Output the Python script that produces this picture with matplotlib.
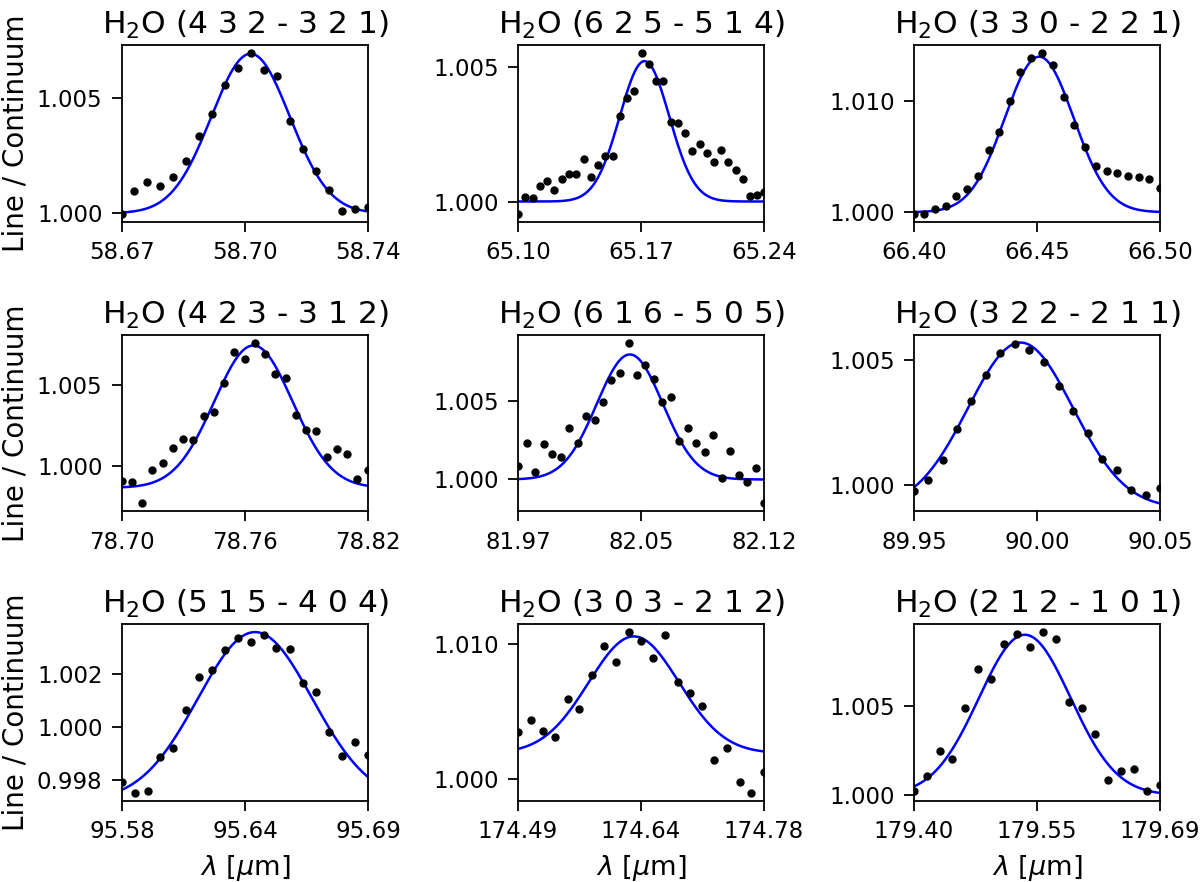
import numpy as np
import matplotlib
matplotlib.use("Agg")
import matplotlib.pyplot as plt

# transition labels (upper - lower level)
transitions = [
    "4 3 2 - 3 2 1", "6 2 5 - 5 1 4", "3 3 0 - 2 2 1",
    "4 2 3 - 3 1 2", "6 1 6 - 5 0 5", "3 2 2 - 2 1 1",
    "5 1 5 - 4 0 4", "3 0 3 - 2 1 2", "2 1 2 - 1 0 1",
]

# observed spectra (wavelength in um, line/continuum)
wave_1 = [58.6700, 58.6734, 58.6771, 58.6808, 58.6844, 58.6882, 58.6919, 58.6957, 58.6993, 58.7030,
          58.7068, 58.7104, 58.7141, 58.7178, 58.7215, 58.7252, 58.7289, 58.7325, 58.7362, 58.7400]
flux_1 = [0.99997, 1.00098, 1.00135, 1.00116, 1.00155, 1.00228, 1.00335, 1.00431, 1.00553, 1.00629,
          1.00693, 1.00618, 1.00592, 1.00401, 1.00277, 1.00181, 1.00102, 1.00010, 1.00017, 1.00026]

wave_2 = [65.1000, 65.1042, 65.1083, 65.1125, 65.1167, 65.1207, 65.1248, 65.1290, 65.1332, 65.1373,
          65.1413, 65.1455, 65.1497, 65.1538, 65.1578, 65.1620, 65.1662, 65.1703, 65.1745, 65.1787,
          65.1827, 65.1869, 65.1908, 65.1950, 65.1992, 65.2034, 65.2073, 65.2115, 65.2157, 65.2198,
          65.2240, 65.2280, 65.2321, 65.2363, 65.2400]
flux_2 = [0.99954, 1.00017, 1.00012, 1.00057, 1.00075, 1.00043, 1.00085, 1.00102, 1.00101, 1.00159,
          1.00091, 1.00137, 1.00170, 1.00170, 1.00317, 1.00383, 1.00408, 1.00550, 1.00511, 1.00448,
          1.00448, 1.00293, 1.00289, 1.00252, 1.00187, 1.00213, 1.00181, 1.00147, 1.00192, 1.00147,
          1.00117, 1.00085, 1.00020, 1.00025, 1.00037]

wave_3 = [66.4000, 66.4041, 66.4084, 66.4128, 66.4172, 66.4216, 66.4259, 66.4303, 66.4346, 66.4389,
          66.4432, 66.4476, 66.4521, 66.4565, 66.4608, 66.4651, 66.4695, 66.4740, 66.4783, 66.4826,
          66.4871, 66.4915, 66.4957, 66.5000]
flux_3 = [0.99985, 0.99985, 1.00027, 1.00054, 1.00147, 1.00213, 1.00326, 1.00560, 1.00725, 1.01000,
          1.01260, 1.01389, 1.01431, 1.01320, 1.01039, 1.00787, 1.00584, 1.00416, 1.00374, 1.00353,
          1.00326, 1.00314, 1.00296, 1.00222]

wave_4 = [78.7000, 78.7047, 78.7098, 78.7148, 78.7198, 78.7247, 78.7298, 78.7348, 78.7398, 78.7449,
          78.7498, 78.7548, 78.7598, 78.7649, 78.7699, 78.7748, 78.7798, 78.7849, 78.7899, 78.7948,
          78.7998, 78.8049, 78.8099, 78.8148, 78.8200]
flux_4 = [0.99904, 0.99898, 0.99766, 0.99971, 1.00018, 1.00111, 1.00166, 1.00160, 1.00305, 1.00332,
          1.00512, 1.00703, 1.00658, 1.00762, 1.00693, 1.00570, 1.00543, 1.00316, 1.00219, 1.00215,
          1.00051, 1.00102, 1.00070, 0.99916, 0.99971]

wave_5 = [81.9700, 81.9753, 81.9806, 81.9856, 81.9909, 81.9960, 82.0013, 82.0063, 82.0116, 82.0167,
          82.0220, 82.0270, 82.0321, 82.0374, 82.0425, 82.0477, 82.0530, 82.0581, 82.0634, 82.0684,
          82.0735, 82.0788, 82.0839, 82.0891, 82.0942, 82.0995, 82.1047, 82.1098, 82.1149, 82.1200]
flux_5 = [1.00087, 1.00235, 1.00049, 1.00227, 1.00163, 1.00142, 1.00328, 1.00233, 1.00403, 1.00381,
          1.00496, 1.00638, 1.00680, 1.00875, 1.00669, 1.00729, 1.00640, 1.00492, 1.00525, 1.00244,
          1.00328, 1.00231, 1.00178, 1.00284, 1.00011, 1.00184, 1.00030, 0.99983, 1.00072, 0.99847]

wave_6 = [89.9500, 89.9558, 89.9617, 89.9675, 89.9733, 89.9792, 89.9850, 89.9911, 89.9969, 90.0029,
          90.0088, 90.0147, 90.0207, 90.0265, 90.0325, 90.0383, 90.0442, 90.0500]
flux_6 = [0.99975, 1.00019, 1.00099, 1.00221, 1.00333, 1.00439, 1.00529, 1.00565, 1.00541, 1.00491,
          1.00394, 1.00296, 1.00205, 1.00104, 1.00060, 0.99978, 0.99960, 0.99985]

wave_7 = [95.5800, 95.5857, 95.5915, 95.5971, 95.6028, 95.6086, 95.6144, 95.6201, 95.6259, 95.6317,
          95.6377, 95.6434, 95.6490, 95.6550, 95.6608, 95.6666, 95.6724, 95.6782, 95.6840, 95.6900]
flux_7 = [0.99794, 0.99751, 0.99759, 0.99889, 0.99921, 1.00065, 1.00190, 1.00215, 1.00293, 1.00338,
          1.00321, 1.00349, 1.00298, 1.00295, 1.00169, 1.00132, 0.99983, 0.99891, 0.99944, 0.99893]

wave_8 = [174.4900, 174.5049, 174.5194, 174.5332, 174.5485, 174.5622, 174.5767, 174.5909, 174.6058,
          174.6207, 174.6348, 174.6497, 174.6638, 174.6784, 174.6929, 174.7074, 174.7215, 174.7364,
          174.7514, 174.7651, 174.7800]
flux_8 = [1.00349, 1.00437, 1.00354, 1.00312, 1.00595, 1.00518, 1.00771, 1.00980, 1.00862,
          1.01086, 1.01022, 1.00894, 1.01061, 1.00717, 1.00639, 1.00541, 1.00138, 1.00229,
          0.99978, 0.99897, 1.00052]

wave_9 = [179.4000, 179.4150, 179.4303, 179.4453, 179.4602, 179.4756, 179.4909, 179.5062, 179.5216,
          179.5369, 179.5523, 179.5672, 179.5830, 179.5979, 179.6133, 179.6290, 179.6444, 179.6597,
          179.6750, 179.6900]
flux_9 = [1.00020, 1.00107, 1.00246, 1.00202, 1.00487, 1.00711, 1.00652, 1.00852, 1.00907,
          1.00835, 1.00917, 1.00876, 1.00524, 1.00491, 1.00346, 1.00083, 1.00133, 1.00146,
          1.00024, 1.00056]

waves = [wave_1, wave_2, wave_3, wave_4, wave_5, wave_6, wave_7, wave_8, wave_9]
fluxes = [flux_1, flux_2, flux_3, flux_4, flux_5, flux_6, flux_7, flux_8, flux_9]

# gaussian fit parameters
fit_center = [58.7066, 65.1720, 66.4509, 78.7641, 82.0382, 89.9933, 95.6395, 174.6266, 179.5306]
fit_amp = [0.00690, 0.00520, 0.01398, 0.00881, 0.00799, 0.00664, 0.00640, 0.00864, 0.00902]
fit_sigma = [0.01116, 0.01410, 0.01400, 0.01910, 0.02010, 0.02130, 0.02560, 0.05330, 0.05400]
fit_base = [1.00000, 1.00000, 1.00000, 0.99863, 1.00000, 0.99905, 0.99720, 1.00190, 1.00000]

# axis ticks
xtick_labels = [
    ["58.67", "58.70", "58.74"], ["65.10", "65.17", "65.24"], ["66.40", "66.45", "66.50"],
    ["78.70", "78.76", "78.82"], ["81.97", "82.05", "82.12"], ["89.95", "90.00", "90.05"],
    ["95.58", "95.64", "95.69"], ["174.49", "174.64", "174.78"], ["179.40", "179.55", "179.69"],
]
yticks = [
    [1.000, 1.005], [1.000, 1.005], [1.000, 1.010],
    [1.000, 1.005], [1.000, 1.005], [1.000, 1.005],
    [0.998, 1.000, 1.002], [1.000, 1.010], [1.000, 1.005],
]


def gaussian(x, c, a, s, b):
    return b + a * np.exp(-0.5 * ((x - c) / s) ** 2)


fig, axes = plt.subplots(3, 3, figsize=(12, 8.82), dpi=100)
fig.subplots_adjust(left=122 / 1200, right=1160 / 1200, top=1 - 45 / 882,
                    bottom=1 - 801 / 882, wspace=0.61, hspace=0.636)

for i, ax in enumerate(axes.flat):
    x = np.array(waves[i])
    y = np.array(fluxes[i])
    ax.plot(x, y, "ko", ms=5, zorder=3)
    xm = np.linspace(x.min(), x.max(), 400)
    ax.plot(xm, gaussian(xm, fit_center[i], fit_amp[i], fit_sigma[i], fit_base[i]),
            color="b", lw=1.8, scalex=False, scaley=False, zorder=2)
    ax.set_xlim(x.min(), x.max())
    ax.set_xticks(np.linspace(x.min(), x.max(), 3), xtick_labels[i])
    ax.set_yticks(yticks[i], [f"{v:.3f}" for v in yticks[i]])
    ax.tick_params(labelsize=16.5, length=7, width=1.3, pad=7)
    for sp in ax.spines.values():
        sp.set_linewidth(1.3)
    ax.set_title(r"H$_2$O (" + transitions[i] + ")", fontsize=22.5, pad=8)
    if i % 3 == 0:
        ax.set_ylabel("Line / Continuum", fontsize=20, labelpad=5)
    if i >= 6:
        ax.set_xlabel(r"$\lambda$ [$\mu$m]", fontsize=19.5, labelpad=7)

fig.savefig("out.png", dpi=100)
